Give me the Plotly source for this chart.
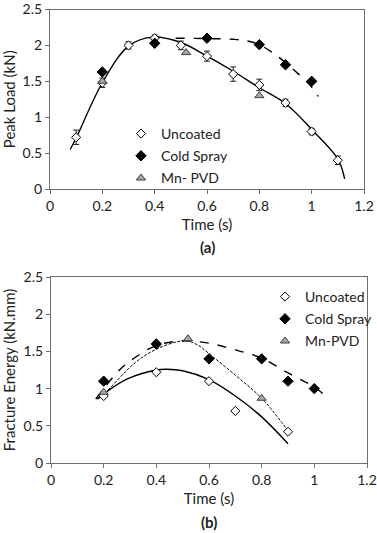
import plotly.graph_objects as go

# ---------------- Data: (a) Peak load ----------------
a_unc_x = [0.1, 0.2, 0.3, 0.4, 0.5, 0.6, 0.7, 0.8, 0.9, 1.0, 1.1]
a_unc_y = [0.72, 1.48, 2.0, 2.1, 2.0, 1.85, 1.6, 1.45, 1.2, 0.8, 0.4]
a_unc_err = [0.1, 0.065, 0.05, 0.045, 0.06, 0.07, 0.1, 0.08, 0.05, 0.045, 0.06]
a_cs_x = [0.2, 0.4, 0.6, 0.8, 0.9, 1.0]
a_cs_y = [1.63, 2.03, 2.1, 2.01, 1.73, 1.5]
a_mn_x = [0.2, 0.52, 0.8]
a_mn_y = [1.5, 1.9, 1.3]
# trend lines
a_fit_unc_x = [0.077, 0.1, 0.2, 0.3, 0.39, 0.5, 0.6, 0.7, 0.8, 0.9, 1.0, 1.1, 1.126]
a_fit_unc_y = [0.55, 0.71, 1.48, 1.99, 2.115, 2.04, 1.85, 1.64, 1.41, 1.19, 0.83, 0.42, 0.14]
a_fit_cs_x = [0.48, 0.6, 0.7, 0.75, 0.8, 0.85, 0.9, 0.95, 1.0, 1.025]
a_fit_cs_y = [2.10, 2.095, 2.085, 2.065, 2.01, 1.9, 1.76, 1.6, 1.42, 1.29]

# ---------------- Data: (b) Fracture energy ----------------
b_unc_x = [0.2, 0.4, 0.6, 0.7, 0.9]
b_unc_y = [0.9, 1.22, 1.1, 0.7, 0.42]
b_cs_x = [0.2, 0.4, 0.6, 0.8, 0.9, 1.0]
b_cs_y = [1.1, 1.6, 1.4, 1.4, 1.1, 1.0]
b_mn_x = [0.2, 0.52, 0.8]
b_mn_y = [0.95, 1.67, 0.87]
b_fit_unc_x = [0.175, 0.2, 0.29, 0.4, 0.44, 0.5, 0.6, 0.7, 0.8, 0.9]
b_fit_unc_y = [0.86, 0.93, 1.13, 1.25, 1.26, 1.24, 1.12, 0.90, 0.62, 0.26]
b_fit_cs_x = [0.17, 0.2, 0.26, 0.3, 0.4, 0.5, 0.6, 0.7, 0.8, 0.9, 1.0, 1.05]
b_fit_cs_y = [0.86, 1.0, 1.25, 1.37, 1.58, 1.64, 1.61, 1.52, 1.41, 1.21, 1.02, 0.88]
b_fit_mn_x = [0.18, 0.2, 0.32, 0.4, 0.48, 0.52, 0.56, 0.6, 0.7, 0.8, 0.89]
b_fit_mn_y = [0.86, 0.92, 1.35, 1.53, 1.63, 1.64, 1.58, 1.47, 1.18, 0.87, 0.48]

FONT = "Lato"
W, H = 377, 533

fig = go.Figure()

def markers(x, y, name, sym, color, lc, size, xa, ya, legend, err=None):
    kw = {}
    if err is not None:
        kw["error_y"] = dict(type="data", array=err, visible=True, color="#222222",
                             thickness=1, width=3)
    fig.add_trace(go.Scatter(
        x=x, y=y, mode="markers", name=name, xaxis=xa, yaxis=ya,
        legend=legend, legendgroup=name + legend,
        marker=dict(symbol=sym, size=size, color=color,
                    line=dict(color=lc, width=1)),
        **kw))

def line(x, y, dash, width, xa, ya):
    fig.add_trace(go.Scatter(
        x=x, y=y, mode="lines", showlegend=False, xaxis=xa, yaxis=ya,
        line=dict(color="black", width=width, dash=dash, shape="spline", smoothing=1.0),
        hoverinfo="skip"))

# (a)
line(a_fit_unc_x, a_fit_unc_y, "solid", 1.4, "x", "y")
line(a_fit_cs_x, a_fit_cs_y, "dash", 1.4, "x", "y")
markers(a_unc_x, a_unc_y, "Uncoated", "diamond", "white", "black", 7, "x", "y", "legend", a_unc_err)
markers(a_cs_x, a_cs_y, "Cold Spray", "diamond", "black", "black", 8, "x", "y", "legend")
markers(a_mn_x, a_mn_y, "Mn- PVD", "triangle-up", "#a6a6a6", "#404040", 8, "x", "y", "legend")

# (b)
line(b_fit_unc_x, b_fit_unc_y, "solid", 1.4, "x2", "y2")
line(b_fit_cs_x, b_fit_cs_y, "dash", 1.4, "x2", "y2")
line(b_fit_mn_x, b_fit_mn_y, "3px,1.5px", 1.0, "x2", "y2")
markers(b_unc_x, b_unc_y, "Uncoated", "diamond", "white", "black", 7, "x2", "y2", "legend2")
markers(b_cs_x, b_cs_y, "Cold Spray", "diamond", "black", "black", 8, "x2", "y2", "legend2")
markers(b_mn_x, b_mn_y, "Mn-PVD", "triangle-up", "#a6a6a6", "#404040", 8, "x2", "y2", "legend2")

axis_common = dict(showgrid=False, zeroline=False, showline=True, linecolor="#6e6e6e",
                   linewidth=1.2, mirror=True, ticks="outside", ticklen=4, automargin=False,
                   ticklabeloverflow="allow",
                   tickcolor="#6e6e6e", tickfont=dict(family=FONT, size=14, color="#222"))

def px_x(p):
    return p / W

def px_y(p):
    return 1 - p / H

TF = dict(family=FONT, size=15)

fig.update_layout(
    width=W, height=H, margin=dict(l=0, r=0, t=0, b=0, autoexpand=False),
    paper_bgcolor="white", plot_bgcolor="white",
    font=dict(family=FONT, color="#222"),
    xaxis=dict(domain=[px_x(50), px_x(364)], range=[0, 1.2], dtick=0.2, anchor="y",
               title=dict(text="Time (s)", font=TF, standoff=6), **axis_common),
    yaxis=dict(domain=[px_y(189), px_y(9.5)], range=[0, 2.5], dtick=0.5, anchor="x",
               title=dict(text="Peak Load (kN)", font=TF, standoff=5), **axis_common),
    xaxis2=dict(domain=[px_x(51), px_x(367)], range=[0, 1.2], dtick=0.2, anchor="y2",
                title=dict(text="Time (s)", font=TF, standoff=6), **axis_common),
    yaxis2=dict(domain=[px_y(463), px_y(277)], range=[0, 2.5], dtick=0.5, anchor="x2",
                title=dict(text="Fracture Energy (kN.mm)", font=TF, standoff=5), **axis_common),
    legend=dict(x=px_x(121), y=px_y(118), xanchor="left", yanchor="top",
                bgcolor="rgba(0,0,0,0)", font=dict(family=FONT, size=14),
                tracegroupgap=1, itemwidth=30),
    legend2=dict(x=px_x(265), y=px_y(281), xanchor="left", yanchor="top",
                 bgcolor="rgba(0,0,0,0)", font=dict(family=FONT, size=14),
                 tracegroupgap=1, itemwidth=30),
    showlegend=True,
    annotations=[
        dict(text="<b>(a)</b>", x=px_x(207), y=px_y(247), xref="paper", yref="paper",
             xanchor="center", yanchor="middle",
             showarrow=False, font=dict(family=FONT, size=15, color="#222")),
        dict(text="<b>(b)</b>", x=px_x(209), y=px_y(522), xref="paper", yref="paper",
             xanchor="center", yanchor="middle",
             showarrow=False, font=dict(family=FONT, size=15, color="#222")),
    ],
)

fig.write_html(
    "out.html",
    config={"displayModeBar": False},
    post_script=("document.body.style.margin='0';"
                 "document.body.style.overflow='hidden';"
                 "document.documentElement.style.overflow='hidden';"),
)
